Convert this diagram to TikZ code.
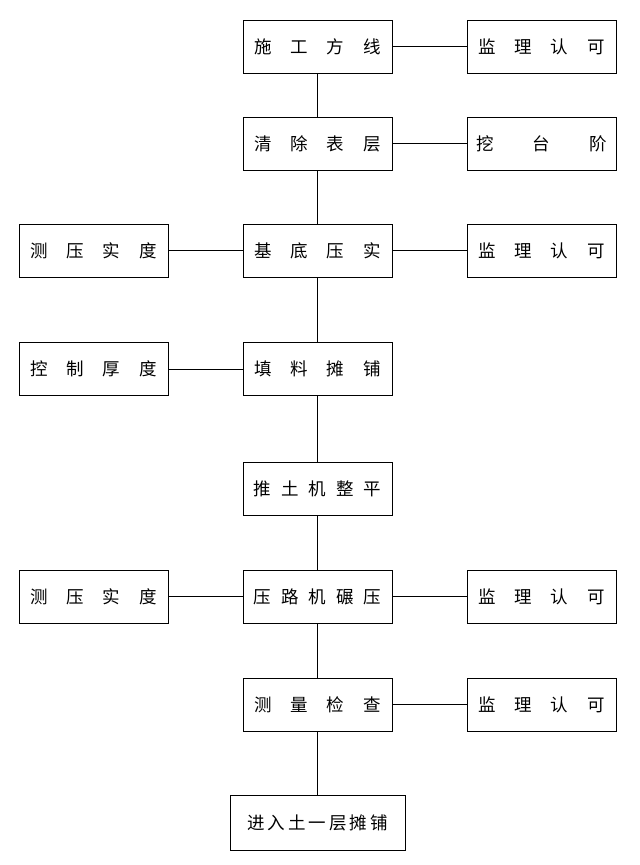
\documentclass[tikz,border=0pt]{standalone}
\usepackage{fontspec}
\newfontfamily\cjk{Noto Sans CJK SC}
\usetikzlibrary{positioning}

\tikzset{
  stage/.style={draw, line width=0.8pt, minimum width=149pt, minimum height=53pt,
    inner sep=0pt, font=\cjk\fontsize{17.5pt}{20pt}\selectfont},
  link/.style={line width=0.8pt}
}
\newcommand{\spc}[1]{\hspace{#1pt}}

\begin{document}
\begin{tikzpicture}[x=1pt,y=-1pt]
  \useasboundingbox (0,0) rectangle (640,865);
  % main column
  \node[stage] (s1) at (317.5,46.5) {施\spc{19}工\spc{19}方\spc{19}线};
  \node[stage] (s2) at (317.5,143.5) {清\spc{19}除\spc{19}表\spc{19}层};
  \node[stage] (s3) at (317.5,250.5) {基\spc{19}底\spc{19}压\spc{19}实};
  \node[stage] (s4) at (317.5,369) {填\spc{19}料\spc{19}摊\spc{19}铺};
  \node[stage] (s5) at (317.5,488.5) {推\spc{10}土\spc{10}机\spc{10}整\spc{10}平};
  \node[stage] (s6) at (317.5,596.5) {压\spc{10}路\spc{10}机\spc{10}碾\spc{10}压};
  \node[stage] (s7) at (317.5,704.5) {测\spc{19}量\spc{19}检\spc{19}查};
  \node[stage, minimum width=175pt, minimum height=55pt] (s8) at (317.5,822.5)
    {进\spc{3}入\spc{3}土\spc{3}一\spc{3}层\spc{3}摊\spc{3}铺};
  % right column
  \node[stage] (r1) at (541.5,46.5) {监\spc{19}理\spc{19}认\spc{19}可};
  \node[stage] (r2) at (541.5,143.5) {挖\spc{39}台\spc{39}阶};
  \node[stage] (r3) at (541.5,250.5) {监\spc{19}理\spc{19}认\spc{19}可};
  \node[stage] (r6) at (541.5,596.5) {监\spc{19}理\spc{19}认\spc{19}可};
  \node[stage] (r7) at (541.5,704.5) {监\spc{19}理\spc{19}认\spc{19}可};
  % left column
  \node[stage] (l3) at (93.5,250.5) {测\spc{19}压\spc{19}实\spc{19}度};
  \node[stage] (l4) at (93.5,369) {控\spc{19}制\spc{19}厚\spc{19}度};
  \node[stage] (l6) at (93.5,596.5) {测\spc{19}压\spc{19}实\spc{19}度};

  \foreach \a/\b in {s1/s2,s2/s3,s3/s4,s4/s5,s5/s6,s6/s7,s7/s8}
    \draw[link] (\a) -- (\b);
  \foreach \a in {1,2,3,6,7}
    \draw[link] (s\a) -- (r\a);
  \foreach \a in {3,4,6}
    \draw[link] (l\a) -- (s\a);
\end{tikzpicture}
\end{document}
